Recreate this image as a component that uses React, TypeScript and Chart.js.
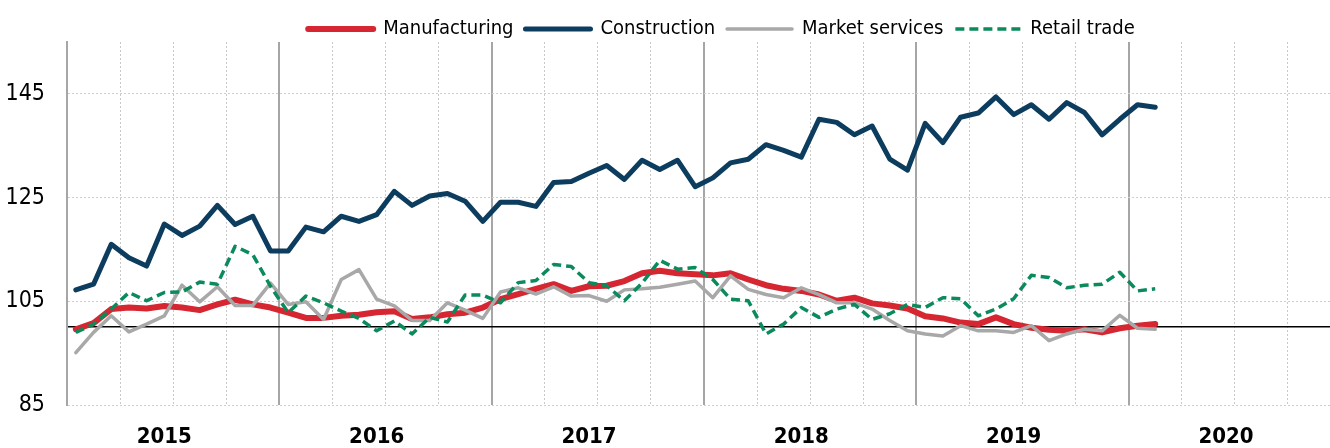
import React, { useEffect, useRef } from "react";
import { Chart, registerables } from "chart.js";

Chart.register(...registerables);

// Monthly observations, Jan 2015 – Feb 2020
const manufacturing = [
  99.6, 100.8, 103.5, 103.8, 103.6, 104.1, 103.8, 103.3, 104.4, 105.3, 104.4, 103.8,
  102.8, 101.8, 101.8, 102.2, 102.4, 102.9, 103.1, 101.6, 101.9, 102.5, 102.8, 103.8,
  105.4, 106.4, 107.4, 108.3, 107.0, 107.9, 108.0, 108.9, 110.4, 110.9, 110.4, 110.2,
  110.0, 110.4, 109.2, 108.1, 107.4, 107.0, 106.3, 105.1, 105.7, 104.6, 104.2, 103.6,
  102.1, 101.7, 100.9, 100.6, 101.9, 100.6, 99.9, 99.5, 99.3, 99.6, 99.0, 99.8,
  100.3, 100.6,
];
const construction = [
  107.2, 108.3, 116.0, 113.4, 111.8, 119.9, 117.7, 119.5, 123.5, 119.8, 121.4, 114.7,
  114.7, 119.3, 118.4, 121.4, 120.4, 121.7, 126.2, 123.5, 125.3, 125.8, 124.3, 120.4,
  124.1, 124.1, 123.3, 127.9, 128.1, 129.7, 131.2, 128.5, 132.2, 130.4, 132.2, 127.1,
  128.8, 131.7, 132.4, 135.2, 134.1, 132.8, 140.1, 139.5, 137.1, 138.8, 132.4, 130.3,
  139.3, 135.6, 140.5, 141.3, 144.4, 141.0, 142.9, 140.1, 143.3, 141.4, 137.1, 140.1,
  142.9, 142.4,
];
const marketServices = [
  95.1, 99.0, 102.2, 99.1, 100.6, 102.2, 108.1, 104.9, 107.8, 104.2, 104.2, 108.5,
  104.4, 104.9, 101.5, 109.2, 111.1, 105.4, 104.1, 101.3, 101.3, 104.7, 103.3, 101.7,
  106.8, 107.6, 106.4, 107.8, 106.0, 106.1, 105.0, 107.2, 107.4, 107.7, 108.3, 108.9,
  105.7, 109.9, 107.3, 106.3, 105.7, 107.6, 106.3, 104.7, 104.7, 103.5, 101.3, 99.3,
  98.7, 98.3, 100.3, 99.3, 99.3, 99.0, 100.3, 97.4, 98.7, 99.6, 99.3, 102.3,
  99.8, 99.6,
];
const retailTrade = [
  99.0, 100.6, 103.5, 106.7, 105.1, 106.7, 106.8, 108.7, 108.3, 115.6, 114.0, 107.9,
  102.8, 106.0, 104.7, 103.1, 101.7, 99.3, 101.2, 98.7, 101.9, 101.0, 106.2, 106.2,
  104.7, 108.6, 109.0, 112.1, 111.7, 108.6, 108.0, 105.1, 108.5, 112.9, 111.2, 111.5,
  109.2, 105.4, 105.1, 98.7, 100.6, 103.8, 101.9, 103.5, 104.4, 101.5, 102.6, 104.4,
  103.8, 105.7, 105.5, 102.2, 103.5, 105.5, 110.0, 109.6, 107.6, 108.1, 108.3, 110.6,
  107.0, 107.4,
];

const seriesNames = ["Manufacturing", "Construction", "Market services", "Retail trade"];
const seriesColors = ["#D62631", "#0C3C5E", "#A8A8A8", "#0B8A5C"];
const years = ["2015", "2016", "2017", "2018", "2019", "2020"];
const yTickValues = [85, 105, 125, 145];
const baselineValue = 100;
const monthsShown = 72;

const NARROW = '"Liberation Sans Narrow", "Arial Narrow", "DejaVu Sans Condensed", sans-serif';
const RETAIL_DASH = [9, 5];
const LEGEND_SHIFT_Y = 7;
const LEGEND_SHIFT_X = 51;

function toPoints(values: number[]) {
  return values.map((v, i) => ({ x: i + 0.5, y: v }));
}

const legendShift = {
  id: "legendShift",
  afterLayout(chart: any) {
    const l = chart.legend;
    if (l) {
      l.top += LEGEND_SHIFT_Y;
      l.bottom += LEGEND_SHIFT_Y;
      l.left += LEGEND_SHIFT_X;
      l.right += LEGEND_SHIFT_X;
    }
  },
};

export default function App() {
  const ref = useRef<HTMLCanvasElement | null>(null);

  useEffect(() => {
    if (!ref.current) return;
    const all = [manufacturing, construction, marketServices, retailTrade];
    const widths = [6, 5, 3.5, 3.5];
    const chart = new Chart(ref.current, {
      type: "line",
      data: {
        datasets: all.map((vals, k) => ({
          label: seriesNames[k],
          data: toPoints(vals),
          borderColor: seriesColors[k],
          backgroundColor: seriesColors[k],
          borderWidth: widths[k],
          borderDash: k === 3 ? RETAIL_DASH : [],
          borderCapStyle: k === 3 ? "butt" : "round",
          borderJoinStyle: "round",
          pointRadius: 0,
          tension: 0,
          order: 3 - k,
        })),
      },
      plugins: [legendShift],
      options: {
        animation: false,
        responsive: false,
        devicePixelRatio: 1,
        layout: { padding: { top: 0, right: 101, left: 0, bottom: 0 } },
        plugins: {
          tooltip: { enabled: false },
          legend: {
            position: "top",
            align: "center",
            labels: {
              usePointStyle: true,
              pointStyle: "line",
              pointStyleWidth: 65,
              boxHeight: 20,
              padding: 12,
              color: "#000",
              font: { family: NARROW, size: 20 },
              sort: (a: any, b: any) => a.datasetIndex - b.datasetIndex,
              generateLabels: (ch: any) => {
                const items = Chart.defaults.plugins.legend.labels.generateLabels(ch);
                items.forEach((it: any) => {
                  const k = it.datasetIndex;
                  it.lineWidth = widths[k];
                  it.strokeStyle = seriesColors[k];
                  it.fillStyle = seriesColors[k];
                  it.lineDash = k === 3 ? RETAIL_DASH : [];
                  it.lineCap = k === 3 ? "butt" : "round";
                });
                return items;
              },
            },
          },
        },
        scales: {
          x: {
            type: "linear",
            min: 0,
            max: monthsShown,
            afterBuildTicks: (scale: any) => {
              const t: { value: number }[] = [];
              for (let q = 0; q <= monthsShown; q += 3) t.push({ value: q });
              years.forEach((_, k) => t.push({ value: k * 12 + 5.5 }));
              t.sort((a, b) => a.value - b.value);
              scale.ticks = t;
            },
            afterFit: (scale: any) => {
              scale.height = 43;
            },
            ticks: {
              autoSkip: false,
              maxRotation: 0,
              padding: 19,
              color: "#000",
              font: { family: NARROW, size: 22, weight: "bold" },
              callback: (value: any) => {
                const v = Number(value);
                if (Math.abs((v % 12) - 5.5) < 0.01) return years[Math.floor(v / 12)];
                return "";
              },
            },
            grid: {
              drawTicks: false,
              color: (ctx: any) => {
                const v = ctx.tick ? ctx.tick.value : 0;
                if (v % 12 === 0) return "#A6A6A6";
                if (v % 3 === 0) return "#C9C9C9";
                return "rgba(0,0,0,0)";
              },
              lineWidth: (ctx: any) => {
                const v = ctx.tick ? ctx.tick.value : 0;
                return v % 12 === 0 ? 2 : 1;
              },
            },
            border: {
              display: false,
              dash: (ctx: any) => {
                const v = ctx.tick ? ctx.tick.value : 0;
                return v % 12 === 0 ? [] : [2, 2];
              },
            },
          },
          y: {
            min: 85,
            max: 155,
            afterBuildTicks: (scale: any) => {
              scale.ticks = [...yTickValues, baselineValue]
                .sort((a, b) => a - b)
                .map((v) => ({ value: v }));
            },
            afterFit: (scale: any) => {
              scale.width = 67;
            },
            ticks: {
              autoSkip: false,
              padding: 22,
              color: "#000",
              font: { family: NARROW, size: 23 },
              callback: (value: any) => (Number(value) === baselineValue ? "" : String(value)),
            },
            grid: {
              drawTicks: false,
              color: (ctx: any) =>
                ctx.tick && ctx.tick.value === baselineValue ? "#000000" : "#CFCFCF",
              lineWidth: (ctx: any) => (ctx.tick && ctx.tick.value === baselineValue ? 1.5 : 1),
            },
            border: {
              display: true,
              color: "#A6A6A6",
              width: 2,
              dash: (ctx: any) =>
                ctx.tick && ctx.tick.value === baselineValue ? [] : [2, 2],
            },
          },
        },
      },
    });
    return () => chart.destroy();
  }, []);

  return (
    <div
      style={{
        position: "fixed",
        left: 0,
        top: 0,
        width: 1330,
        height: 448,
        overflow: "hidden",
        background: "#fff",
      }}
    >
      <canvas ref={ref} width={1442} height={448} style={{ display: "block" }} />
    </div>
  );
}
